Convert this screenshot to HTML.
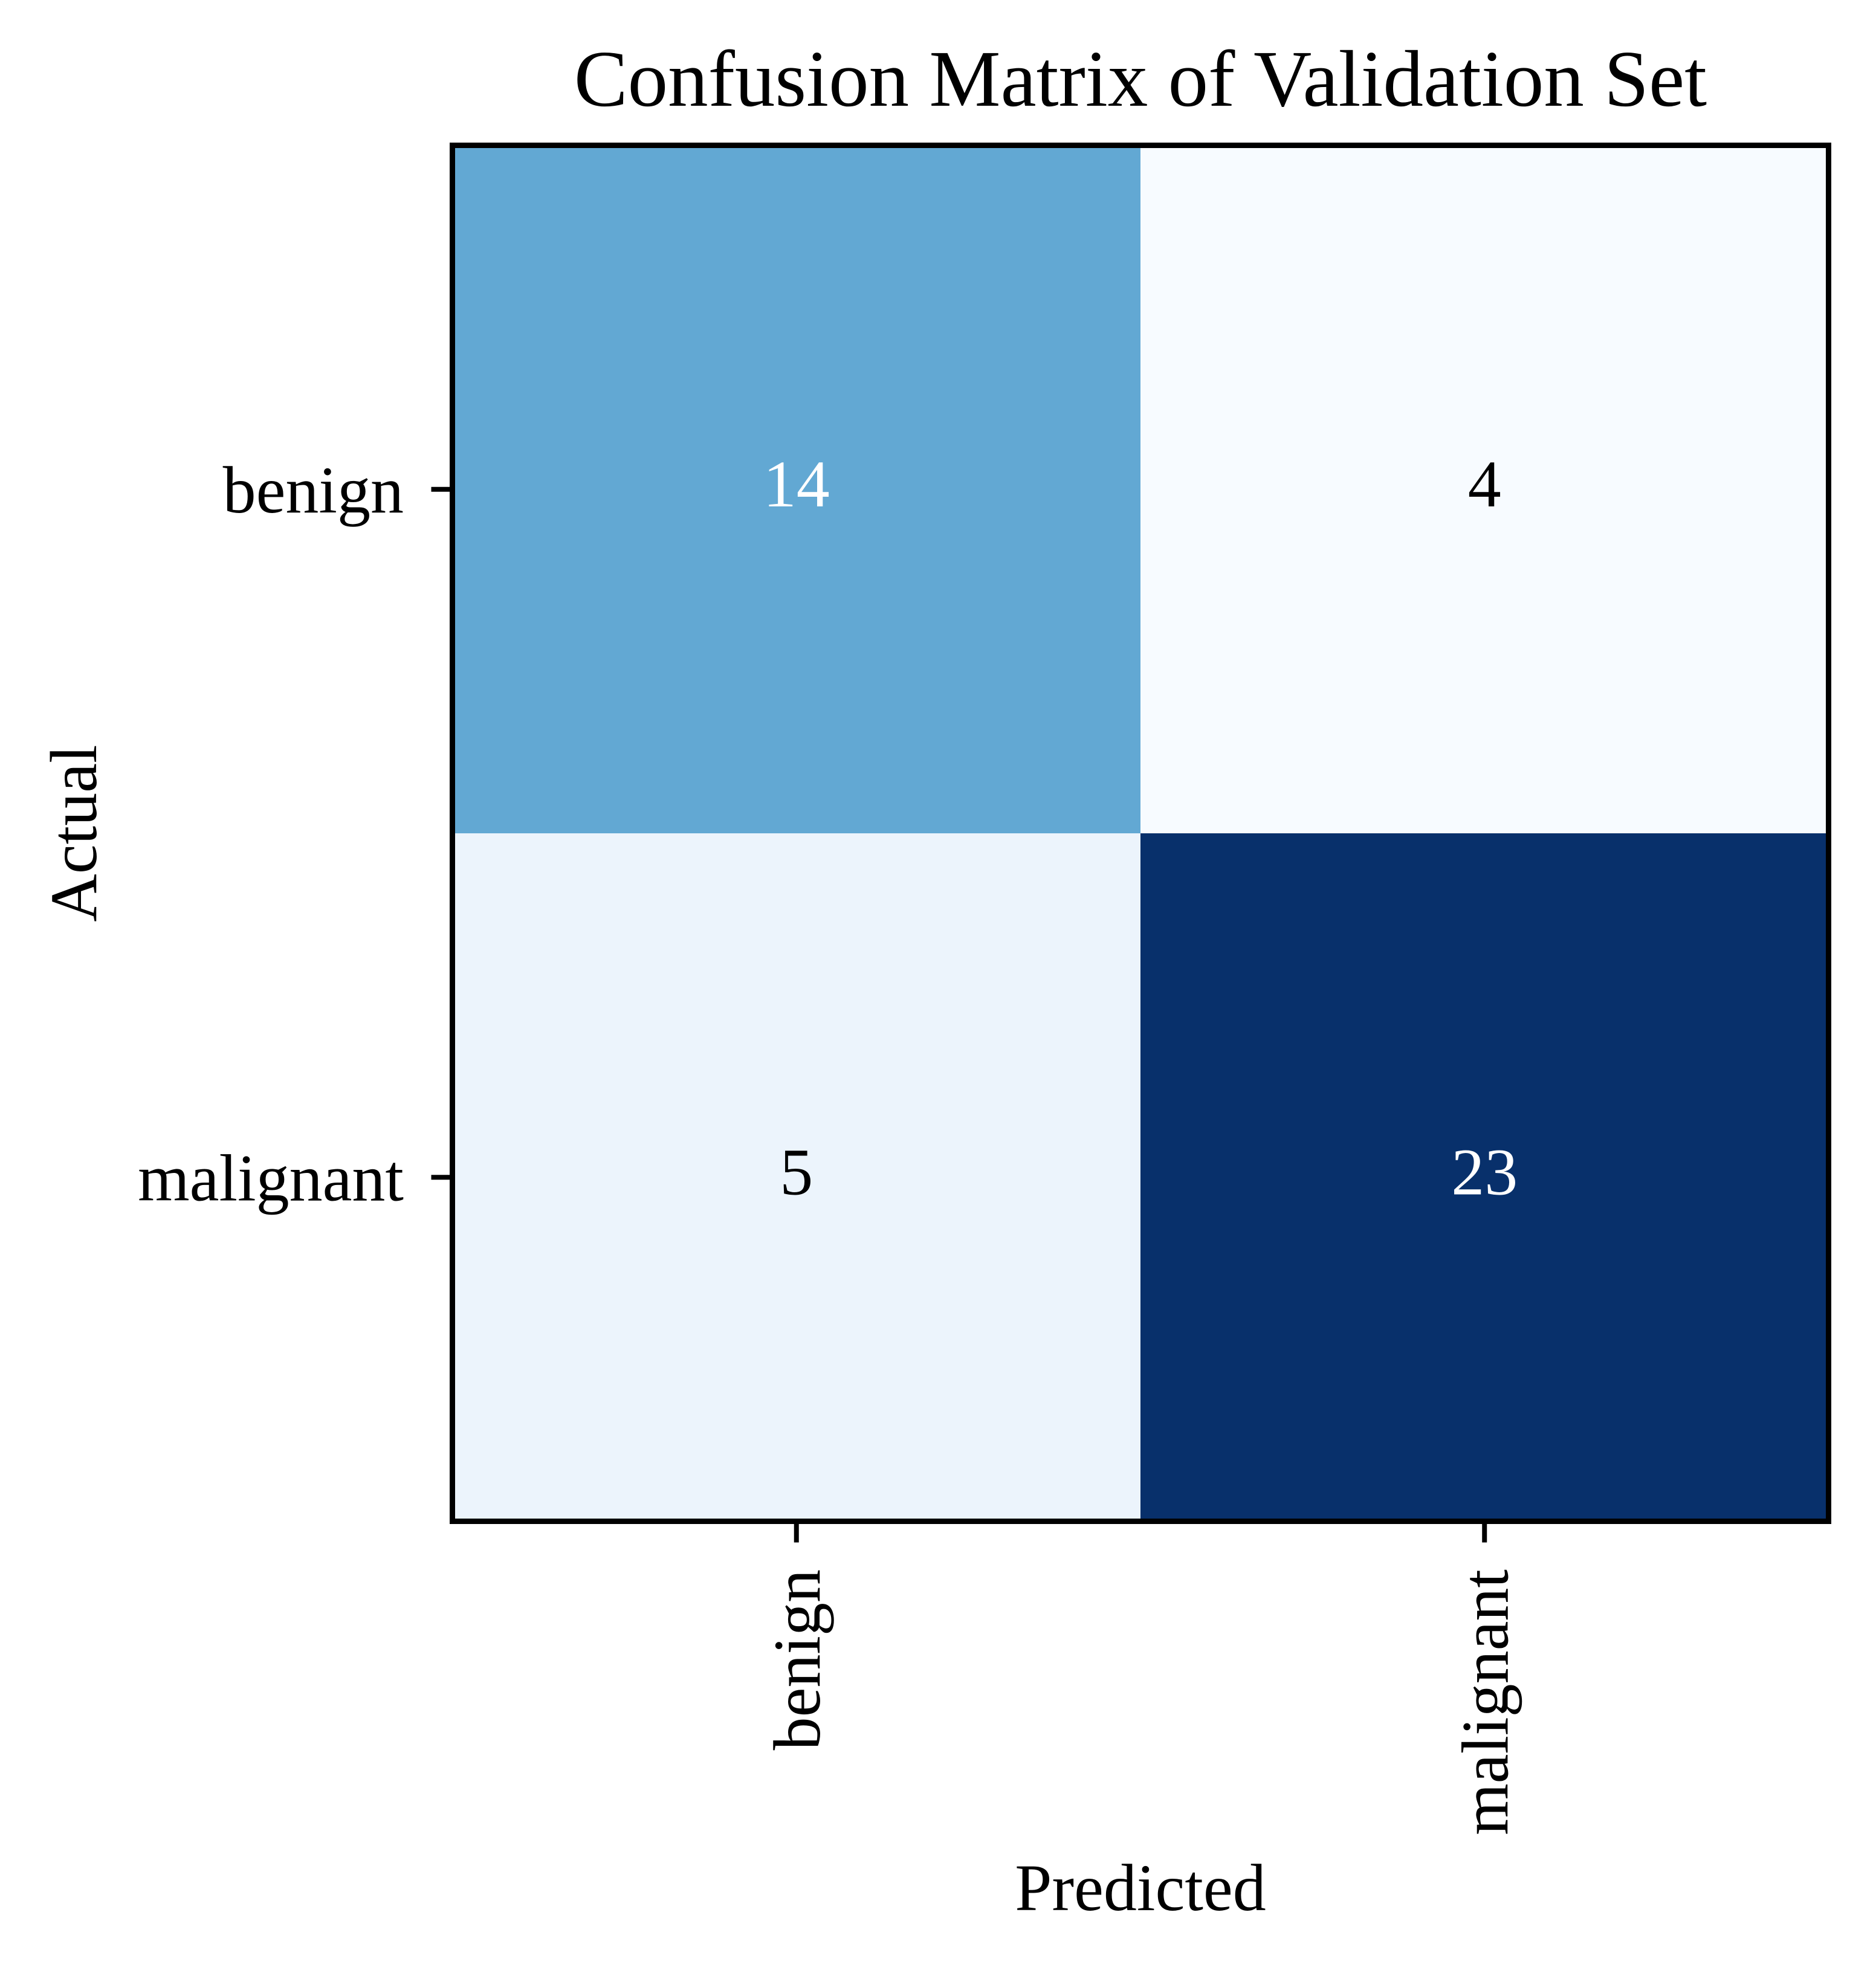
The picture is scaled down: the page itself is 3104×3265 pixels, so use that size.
<!DOCTYPE html>
<html>
<head>
<meta charset="utf-8">
<style>
  html, body { margin:0; padding:0; background:#fff; }
  svg { display:block; }
  text { font-family: "Liberation Serif", "Times New Roman", serif; }
</style>
</head>
<body>
<svg id="chart" width="3104" height="3265" viewBox="0 0 3104 3265" xmlns="http://www.w3.org/2000/svg">
  <rect x="0" y="0" width="3104" height="3265" fill="#ffffff"/>
  <text x="1887" y="175" font-size="133" text-anchor="middle" fill="#000">Confusion Matrix of Validation Set</text>
  <g id="cells"></g>
  <g id="ticks"></g>
  <rect x="748.5" y="240.5" width="2277" height="2277" fill="none" stroke="#000" stroke-width="9"/>
  <text x="1887" y="3161" font-size="110" text-anchor="middle" fill="#000">Predicted</text>
  <text x="0" y="0" font-size="110" text-anchor="middle" fill="#000" transform="translate(159,1379) rotate(-90)">Actual</text>
</svg>
<script>
const classLabels = ["benign", "malignant"];
const row0 = [14, 4];
const row1 = [5, 23];
const matrix = [row0, row1];

const ns = "http://www.w3.org/2000/svg";
const L = 748.5, T = 240.5, W = 2277, H = 2277;
const n = classLabels.length;
const cw = W / n, ch = H / n;
const xc = i => L + cw * (i + 0.5);
const yc = j => T + ch * (j + 0.5);

const stops = [[247,251,255],[222,235,247],[198,219,239],[158,202,225],[107,174,214],[66,146,198],[33,113,181],[8,81,156],[8,48,107]];
function blues(t) {
  t = Math.max(0, Math.min(1, t));
  const p = t * (stops.length - 1);
  const i = Math.min(Math.floor(p), stops.length - 2);
  const f = p - i;
  const c = stops[i].map((v, k) => Math.round(v + (stops[i + 1][k] - v) * f));
  return "rgb(" + c.join(",") + ")";
}
const all = matrix.flat();
const vmin = Math.min(...all), vmax = Math.max(...all);

const cells = document.getElementById("cells");
matrix.forEach((row, j) => {
  row.forEach((v, i) => {
    const t = (v - vmin) / (vmax - vmin);
    const r = document.createElementNS(ns, "rect");
    r.setAttribute("x", L + cw * i);
    r.setAttribute("y", T + ch * j);
    r.setAttribute("width", cw + 0.5);
    r.setAttribute("height", ch + 0.5);
    r.setAttribute("fill", blues(t));
    
    
    cells.appendChild(r);
    const tx = document.createElementNS(ns, "text");
    tx.setAttribute("x", xc(i));
    tx.setAttribute("y", yc(j) + 28);
    tx.setAttribute("font-size", "110");
    tx.setAttribute("text-anchor", "middle");
    tx.setAttribute("fill", t > 0.5 ? "#ffffff" : "#000000");
    tx.textContent = v;
    
    
    cells.appendChild(tx);
  });
});

const ticks = document.getElementById("ticks");
classLabels.forEach((lab, k) => {
  const yl = document.createElementNS(ns, "line");
  yl.setAttribute("x1", L - 35); yl.setAttribute("x2", L);
  yl.setAttribute("y1", yc(k)); yl.setAttribute("y2", yc(k));
  yl.setAttribute("stroke", "#000"); yl.setAttribute("stroke-width", "8");
  
  
  ticks.appendChild(yl);
  const yt = document.createElementNS(ns, "text");
  yt.setAttribute("x", 668); yt.setAttribute("y", yc(k) + 38);
  yt.setAttribute("font-size", "110"); yt.setAttribute("text-anchor", "end");
  yt.textContent = lab;
  
  
  ticks.appendChild(yt);
  const xl = document.createElementNS(ns, "line");
  xl.setAttribute("x1", xc(k)); xl.setAttribute("x2", xc(k));
  xl.setAttribute("y1", T + H); xl.setAttribute("y2", T + H + 35);
  xl.setAttribute("stroke", "#000"); xl.setAttribute("stroke-width", "8");
  
  
  ticks.appendChild(xl);
  const xt = document.createElementNS(ns, "text");
  xt.setAttribute("x", 0); xt.setAttribute("y", 0);
  xt.setAttribute("font-size", "110"); xt.setAttribute("text-anchor", "end");
  xt.setAttribute("transform", "translate(" + (xc(k) + 38) + ",2597) rotate(-90)");
  xt.textContent = lab;
  
  
  ticks.appendChild(xt);
});
</script>
</body>
</html>
